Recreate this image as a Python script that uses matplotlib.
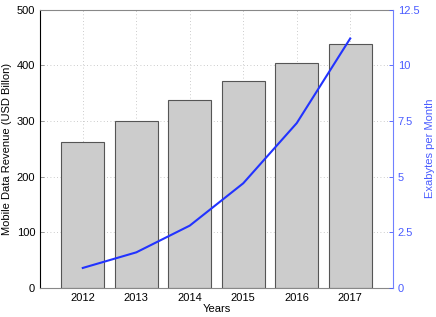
import matplotlib
matplotlib.use("Agg")
import matplotlib.pyplot as plt

years = [2012, 2013, 2014, 2015, 2016, 2017]
revenue = [263, 300, 337, 372, 404, 438]
exabytes = [0.9, 1.6, 2.8, 4.7, 7.4, 11.2]
left_ticks = [0, 100, 200, 300, 400, 500]
right_ticks = [0, 2.5, 5, 7.5, 10, 12.5]
right_labels = ["0", "2.5", "5", "7.5", "10", "12.5"]

plt.rcParams['font.family'] = ['Liberation Sans', 'DejaVu Sans']
plt.rcParams['font.size'] = 8

fig = plt.figure(figsize=(4.36, 3.17), dpi=100)
ax = fig.add_axes([40/436, 1-288/317, 353/436, 278.5/317])
ax.bar(years, revenue, width=0.8, color='#cccccc', edgecolor='#555555', linewidth=0.8, zorder=2)
ax.set_xlim(2011.2, 2017.8)
ax.set_ylim(0, 500)
ax.set_yticks(left_ticks)
ax.set_xticks(years)
ax.grid(True, linestyle=(0, (1, 3)), color='#bbbbbb', linewidth=0.6, zorder=0)
ax.set_axisbelow(True)
ax.tick_params(direction='in', length=3, width=0.6, colors='#888888', labelcolor='black', labelsize=8)
ax.tick_params(axis='x', top=False)
ax.set_xlabel('Years', fontsize=8, labelpad=1)
ax.set_ylabel('Mobile Data Revenue (USD Billon)', fontsize=8, labelpad=3)
for s in ['top', 'bottom']:
    ax.spines[s].set_color('#888888')
    ax.spines[s].set_linewidth(0.8)
ax.spines['left'].set_color('black')
ax.spines['left'].set_linewidth(0.8)
ax.spines['right'].set_visible(False)

ax2 = ax.twinx()
ax2.plot(years, exabytes, color='#2233ff', linewidth=1.5, zorder=3)
ax2.set_ylim(0, 12.5)
ax2.set_yticks(right_ticks)
ax2.set_yticklabels(right_labels)
ax2.tick_params(axis='y', direction='in', length=3, width=0.6, colors='#4a5cff', labelsize=8)
ax2.set_ylabel('Exabytes per Month', color='#4a5cff', fontsize=8, labelpad=4)
ax2.spines['right'].set_color('#7080ff')
ax2.spines['right'].set_linewidth(0.8)
for s in ['top', 'bottom', 'left']:
    ax2.spines[s].set_visible(False)

fig.savefig('out.png', dpi=100)
